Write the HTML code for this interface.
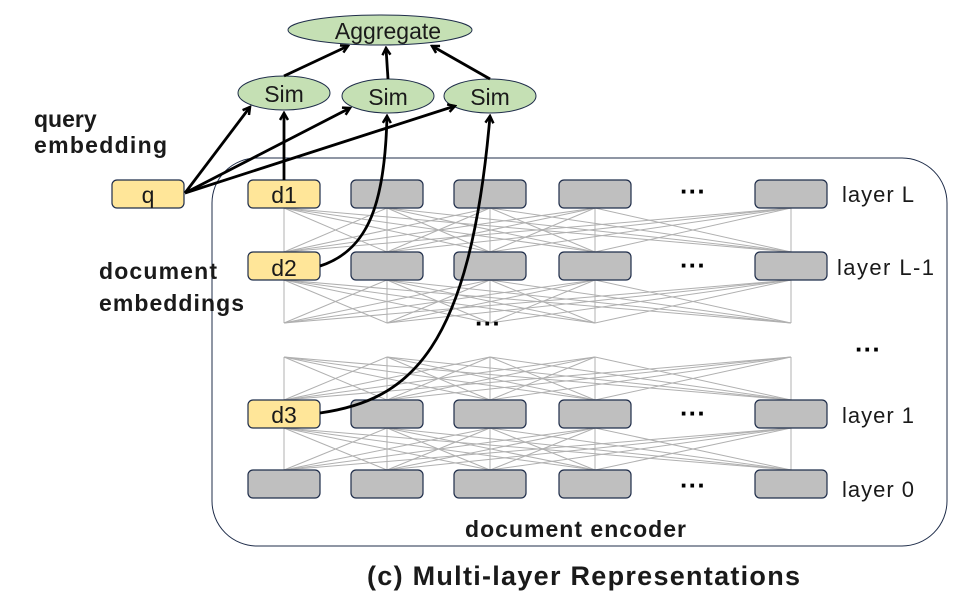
<!DOCTYPE html>
<html><head><style>body{margin:0;background:#fff}</style></head><body>
<svg width="957" height="593" viewBox="0 0 957 593" xmlns="http://www.w3.org/2000/svg" font-family="Liberation Sans, sans-serif">
<defs><marker id="a" markerWidth="10" markerHeight="10" refX="8" refY="5" orient="auto" markerUnits="userSpaceOnUse"><path d="M1,1 L8,5 L1,9" fill="none" stroke="#000" stroke-width="2.5"/></marker></defs>
<rect x="212" y="158" width="735" height="388" rx="45" fill="none" stroke="#1f2d4a" stroke-width="1"/>
<g stroke="#b0b0b0" stroke-width="1" id="net"></g>
<g fill="#1a1a1a">
<text x="34" y="127" font-weight="bold" font-size="23">query</text>
<text x="34" y="153" font-weight="bold" font-size="23" textLength="133">embedding</text>
<text x="99" y="279" font-weight="bold" font-size="23" textLength="118">document</text>
<text x="99" y="311" font-weight="bold" font-size="23" textLength="145">embeddings</text>
<text x="842" y="202" font-size="22" textLength="72">layer L</text>
<text x="837" y="275" font-size="22" textLength="97">layer L-1</text>
<text x="842" y="423" font-size="22" textLength="72">layer 1</text>
<text x="842" y="497" font-size="22" textLength="72">layer 0</text>
<text x="465" y="537" font-weight="bold" font-size="23" textLength="221">document encoder</text>
<text x="367" y="585" font-weight="bold" font-size="27" textLength="433">(c) Multi-layer Representations</text>
</g>
<g font-size="26" font-weight="bold" fill="#000" text-anchor="middle">
<text x="693" y="200">···</text><text x="693" y="274">···</text><text x="693" y="422">···</text><text x="693" y="494">···</text>
<text x="488" y="332">···</text><text x="868" y="358">···</text>
</g>
<g id="boxes"></g>
<g fill="#c5e0b4" stroke="#1f2d4a" stroke-width="1">
<ellipse cx="380" cy="30" rx="92" ry="15"/>
<ellipse cx="284" cy="93" rx="46" ry="17"/>
<ellipse cx="388" cy="96" rx="46" ry="17"/>
<ellipse cx="490" cy="96" rx="46" ry="17"/>
</g>
<g font-size="23" text-anchor="middle" fill="#1a1a1a">
<text x="388" y="39">Aggregate</text>
<text x="284" y="102">Sim</text><text x="388" y="105">Sim</text><text x="490" y="105">Sim</text>
</g>
<g stroke="#000" stroke-width="2.8" fill="none" marker-end="url(#a)">
<line x1="284" y1="76" x2="348" y2="46"/>
<line x1="388" y1="79" x2="386" y2="48"/>
<line x1="490" y1="79" x2="432" y2="46"/>
<line x1="185" y1="193" x2="250" y2="107"/>
<line x1="185" y1="193" x2="350" y2="108"/>
<line x1="185" y1="193" x2="455" y2="106"/>
<line x1="284" y1="180" x2="284" y2="113"/>
<path d="M320 266 C370 250 385 200 387 116"/>
<path d="M320 413 C410 400 470 350 490 116"/>
</g>
<g font-size="23" text-anchor="middle" fill="#1a1a1a">
<text x="148" y="203">q</text><text x="284" y="203">d1</text><text x="284" y="276">d2</text><text x="284" y="423">d3</text>
</g>
</svg>
<script>
var ns="http://www.w3.org/2000/svg",cx=[284,387,490,595,791],net=document.getElementById('net'),bx=document.getElementById('boxes');
function L(x1,y1,x2,y2){var l=document.createElementNS(ns,'line');l.setAttribute('x1',x1);l.setAttribute('y1',y1);l.setAttribute('x2',x2);l.setAttribute('y2',y2);net.appendChild(l);}
[[208,252],[280,323],[357,400],[428,470]].forEach(function(p){cx.forEach(function(a){cx.forEach(function(b){L(a,p[0],b,p[1]);});});});
function R(x,y,w,f){var r=document.createElementNS(ns,'rect');r.setAttribute('x',x);r.setAttribute('y',y);r.setAttribute('width',w);r.setAttribute('height',28);r.setAttribute('rx',5);r.setAttribute('fill',f);r.setAttribute('stroke','#1f2d4a');r.setAttribute('stroke-width','1.2');bx.appendChild(r);}
R(112,180,72,'#ffe699');
[194,266,414,484].forEach(function(y,ri){cx.forEach(function(c,ci){var yel=ci==0&&ri<3;R(c-36,y-14,72,yel?'#ffe699':'#bfbfbf');});});
</script>
</body></html>
